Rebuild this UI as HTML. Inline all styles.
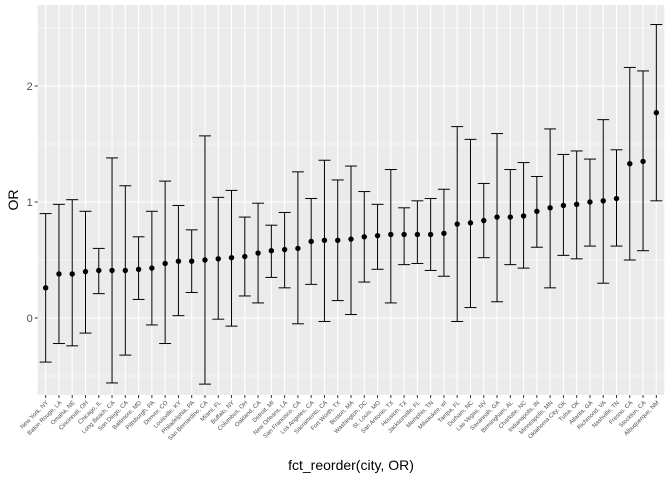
<!DOCTYPE html>
<html><head><meta charset="utf-8"><style>
body{margin:0;background:#fff;}
svg{display:block;font-family:"Liberation Sans",sans-serif;}
</style></head><body>
<svg id="chart" width="672" height="480" xmlns="http://www.w3.org/2000/svg">
<rect x="37.7" y="5" width="626.6" height="390" fill="#ebebeb"/>
<g id="grid"></g><g id="marks"></g><g id="axes"></g>
<text x="0" y="0" transform="translate(18,200) rotate(-90)" text-anchor="middle" font-size="14" fill="#000">OR</text>
<text x="351" y="470" text-anchor="middle" font-size="14" fill="#000">fct_reorder(city, OR)</text>
</svg>
<script>
const cities=["New York, NY","Baton Rouge, LA","Omaha, NE","Cincinnati, OH","Chicago, IL","Long Beach, CA","San Diego, CA","Baltimore, MD","Pittsburgh, PA","Denver, CO","Louisville, KY","Philadelphia, PA","San Bernardino, CA","Miami, FL","Buffalo, NY","Columbus, OH","Oakland, CA","Detroit, MI","New Orleans, LA","San Francisco, CA","Los Angeles, CA","Sacramento, CA","Fort Worth, TX","Boston, MA","Washington, DC","St. Louis, MO","San Antonio, TX","Houston, TX","Jacksonville, FL","Memphis, TN","Milwaukee, wI","Tampa, FL","Durham, NC","Las Vegas, NV","Savannah, GA","Birmingham, AL","Charlotte, NC","Indianapolis, IN","Minneapolis, MN","Oklahoma City, OK","Tulsa, OK","Atlanta, GA","Richmond, VA","Nashville, TN","Fresno, CA","Stockton, CA","Albuquerque, NM"];
const orValues=[0.26,0.38,0.38,0.40,0.41,0.41,0.41,0.42,0.43,0.47,0.49,0.49,0.50,0.51,0.52,0.53,0.56,0.58,0.59,0.60,0.66,0.67,0.67,0.68,0.70,0.71,0.72,0.72,0.72,0.72,0.73,0.81,0.82,0.84,0.87,0.87,0.88,0.92,0.95,0.97,0.98,1.00,1.01,1.03,1.33,1.35,1.77];
const ciLow=[-0.38,-0.22,-0.24,-0.13,0.21,-0.56,-0.32,0.16,-0.06,-0.22,0.02,0.22,-0.57,-0.01,-0.07,0.19,0.13,0.35,0.26,-0.05,0.29,-0.03,0.15,0.03,0.31,0.42,0.13,0.46,0.47,0.41,0.36,-0.03,0.09,0.52,0.14,0.46,0.43,0.61,0.26,0.54,0.51,0.62,0.30,0.62,0.50,0.58,1.01];
const ciHigh=[0.90,0.98,1.02,0.92,0.60,1.38,1.14,0.70,0.92,1.18,0.97,0.76,1.57,1.04,1.10,0.87,0.99,0.80,0.91,1.26,1.03,1.36,1.19,1.31,1.09,0.98,1.28,0.95,1.01,1.03,1.11,1.65,1.54,1.16,1.59,1.28,1.34,1.22,1.63,1.41,1.44,1.37,1.71,1.45,2.16,2.13,2.53];
const yTicks=[0,1,2];
const yMinor=[-0.5,0.5,1.5,2.5];
const NS="http://www.w3.org/2000/svg";
const L=37.7,R=664.3,T=5,B=395;
const n=cities.length, step=(R-L)/(n-1+1.2);
const xs=i=>L+(0.6+i)*step;
const ys=v=>318-v*116;
function mk(tag,attrs,parent){const e=document.createElementNS(NS,tag);for(const k in attrs)e.setAttribute(k,attrs[k]);parent.appendChild(e);return e;}
const grid=document.getElementById('grid'),marks=document.getElementById('marks'),axes=document.getElementById('axes');
yMinor.forEach(v=>{const y=ys(v);if(y<T||y>B)return;const l=mk('line',{x1:L,x2:R,y1:y,y2:y,stroke:'#fff','stroke-width':0.55},grid);

});
yTicks.forEach(v=>{const y=ys(v);const l=mk('line',{x1:L,x2:R,y1:y,y2:y,stroke:'#fff','stroke-width':1.1},grid);


const t=mk('text',{x:L-5,y:y+4,'text-anchor':'end','font-size':11,fill:'#4d4d4d'},axes);t.textContent=v;


const k=mk('line',{x1:L-3,x2:L,y1:y,y2:y,stroke:'#333','stroke-width':1},axes);

});
cities.forEach((c,i)=>{const x=xs(i);
const g=mk('line',{x1:x,x2:x,y1:T,y2:B,stroke:'#fff','stroke-width':1.1},grid);


const k=mk('line',{x1:x,x2:x,y1:B,y2:B+3,stroke:'#333','stroke-width':1},axes);


const t=mk('text',{x:0,y:0,transform:`translate(${x+3},${B+8}) rotate(-45)`,'text-anchor':'end','font-size':6,fill:'#4d4d4d'},axes);t.textContent=c;


const e=mk('g',{},marks);


const w=step*0.45,yl=ys(ciLow[i]),yh=ys(ciHigh[i]);
mk('line',{x1:x,x2:x,y1:yl,y2:yh,stroke:'#000','stroke-width':1},e);
mk('line',{x1:x-w,x2:x+w,y1:yl,y2:yl,stroke:'#000','stroke-width':1},e);
mk('line',{x1:x-w,x2:x+w,y1:yh,y2:yh,stroke:'#000','stroke-width':1},e);
const p=mk('circle',{cx:x,cy:ys(orValues[i]),r:2.7,fill:'#000'},marks);

});
</script>
</body></html>
